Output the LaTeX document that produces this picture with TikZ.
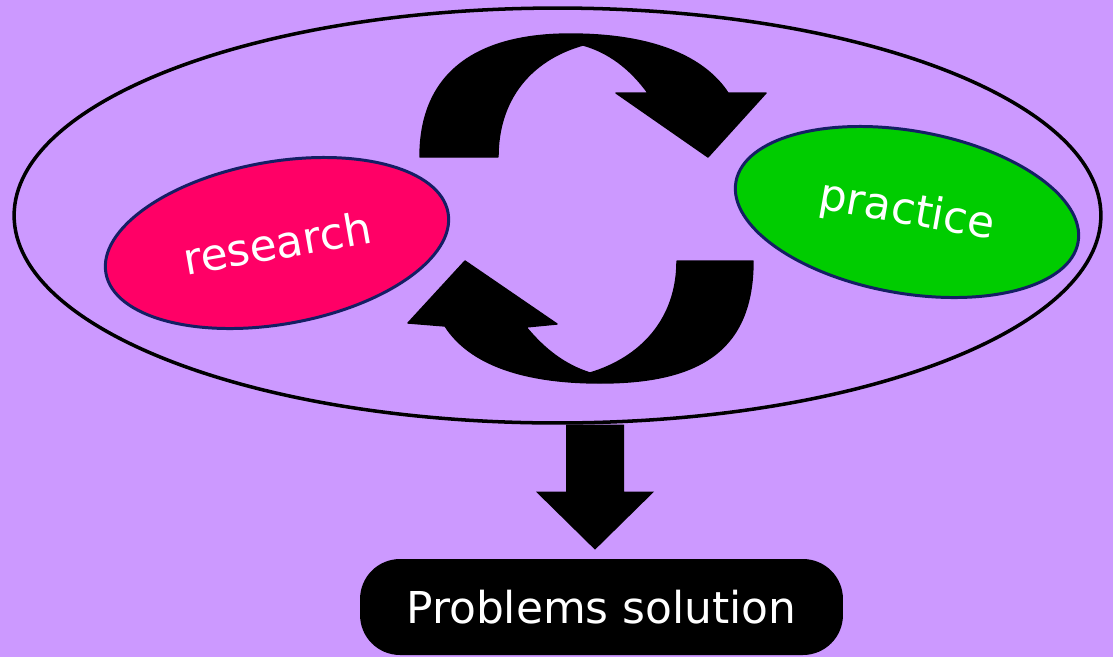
\documentclass[tikz,border=0pt]{standalone}
\usepackage{fontspec}
\setmainfont{DejaVu Sans}
\usetikzlibrary{calc,positioning,shapes.geometric}
\definecolor{color_back}{RGB}{204,153,255}
\definecolor{color_rese}{RGB}{255,0,102}
\definecolor{color_prac}{RGB}{0,204,0}
\definecolor{color_edge}{RGB}{20,30,100}

\begin{document}
\begin{tikzpicture}[x=0.02cm,y=-0.02cm,
	field/.style={ellipse, draw=color_edge, line width=1.7pt, text=white,
		font=\fontsize{25}{30}\selectfont, inner sep=0pt,
		minimum width=6.95cm, minimum height=3.25cm},
	turn/.style={fill=black, draw=black, line width=0.8pt, line join=round},
	solution/.style={rounded corners=0.8cm, fill=black, text=white,
		font=\fontsize{25}{30}\selectfont, minimum width=9.66cm, minimum height=1.92cm}]
	\fill[color_back] (0,0) rectangle (1113,657);
	\useasboundingbox (0,0) rectangle (1113,657);
	% CICLO
	\node[ellipse, draw, line width=2pt, minimum width=21.74cm, minimum height=8.3cm] (cycle) at (557.5,215.5) {};
	\node[field, fill=color_rese, rotate=10] (research) at (277,243) {research};
	\node[field, fill=color_prac, rotate=-10] (practice) at (907,212) {practice};
	% FLECHAS
	\path[turn] (420,157) .. controls (420,70) and (480,34) .. (570,34)
		.. controls (655,34) and (705,58) .. (728,93) -- (766,93) -- (708,157) -- (616,93) -- (648,93)
		.. controls (630,68) and (608,52) .. (583,45)
		.. controls (530,60) and (498,100) .. (498,157) -- cycle;
	\path[turn] (753,261) .. controls (753,350) and (700,383) .. (600,383)
		.. controls (525,383) and (470,365) .. (445,326) -- (408,323) -- (465,261) -- (557,324) -- (526,327)
		.. controls (545,350) and (565,365) .. (590,373)
		.. controls (640,358) and (677,320) .. (677,261) -- cycle;
	% SOLUCION
	\node[solution] (sol) at (601.5,607) {Problems solution};
	\coordinate (tip) at ($(sol.north)+(-6.5,-9)$);
	\fill (tip) -- ++(-59,-58) -- ++(30,0) -- ++(0,-67) -- ++(58,0) -- ++(0,67) -- ++(30,0) -- cycle;
\end{tikzpicture}
\end{document}
